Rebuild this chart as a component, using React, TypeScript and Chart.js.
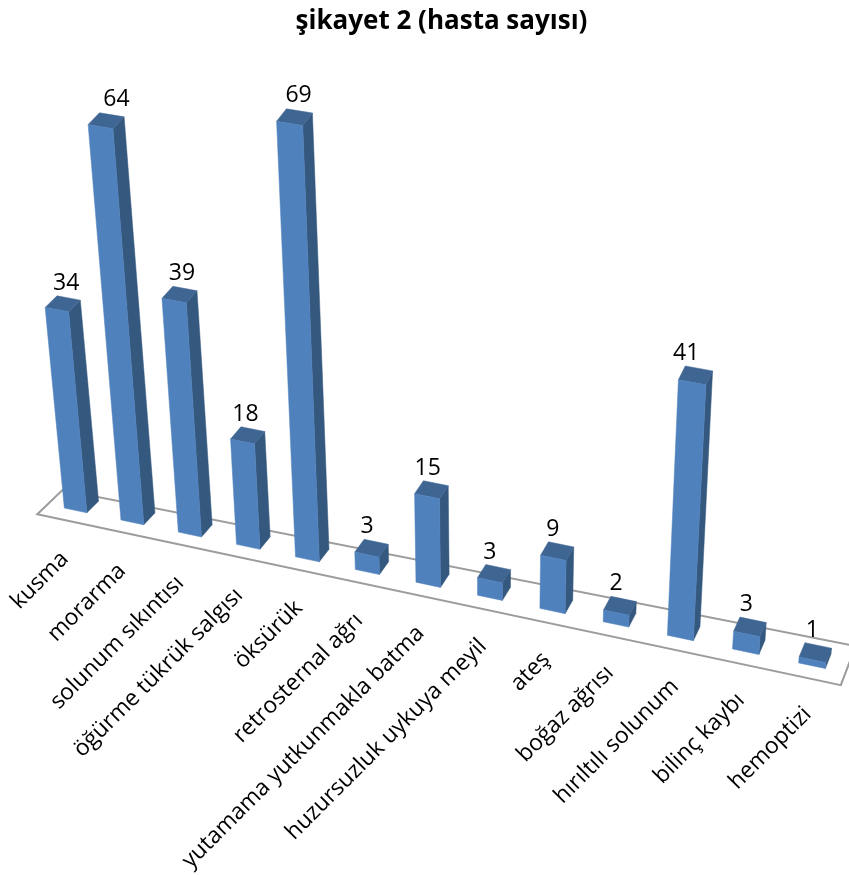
import React, { useEffect, useRef } from "react";
import { Chart, registerables } from "chart.js";

Chart.register(...registerables);

const categories = [
  "kusma",
  "morarma",
  "solunum sıkıntısı",
  "öğürme tükrük salgısı",
  "öksürük",
  "retrosternal ağrı",
  "yutamama yutkunmakla batma",
  "huzursuzluk uykuya meyil",
  "ateş",
  "boğaz ağrısı",
  "hırıltılı solunum",
  "bilinç kaybı",
  "hemoptizi",
];
const patientCounts = [34, 64, 39, 18, 69, 3, 15, 3, 9, 2, 41, 3, 1];
const chartTitle = "şikayet 2 (hasta sayısı)";

const FONT = "'Open Sans', sans-serif";
const VALUE_MAX = 70;

// Where the plot rectangle lands on the canvas after the 3D tilt.
type Pt = [number, number];
const PLANE: Pt[] = [
  [47.5, 504.5], // low end of the category axis, value 0
  [845.5, 672.8], // high end of the category axis, value 0
  [885, 211.5], // high end, top of the value axis
  [4.4, 71], // low end, top of the value axis
];
// Screen vector of one bar depth at each end of the category axis.
const DEPTH_LOW: Pt = [12, -11.5];
const DEPTH_HIGH: Pt = [5.5, -14.5];
const FLOOR_FRONT = -0.85;
const FLOOR_BACK_LOW = 1.25;
const FLOOR_BACK_HIGH = 1.85;

const buildProjection = (q: Pt[]) => {
  const [[x0, y0], [x1, y1], [x2, y2], [x3, y3]] = q;
  const dx1 = x1 - x2, dx2 = x3 - x2, sx = x0 - x1 + x2 - x3;
  const dy1 = y1 - y2, dy2 = y3 - y2, sy = y0 - y1 + y2 - y3;
  const den = dx1 * dy2 - dx2 * dy1;
  const g = (sx * dy2 - dx2 * sy) / den;
  const h = (dx1 * sy - sx * dy1) / den;
  const a = x1 - x0 + g * x1, b = x3 - x0 + h * x3;
  const d = y1 - y0 + g * y1, e = y3 - y0 + h * y3;
  return (u: number, v: number): Pt => {
    const w = g * u + h * v + 1;
    return [(a * u + b * v + x0) / w, (d * u + e * v + y0) / w];
  };
};

const toScreen = buildProjection(PLANE);

const project = (u: number, v: number, depth: number): Pt => {
  const [x, y] = toScreen(u, v);
  const dx = DEPTH_LOW[0] + (DEPTH_HIGH[0] - DEPTH_LOW[0]) * u;
  const dy = DEPTH_LOW[1] + (DEPTH_HIGH[1] - DEPTH_LOW[1]) * u;
  return [x + dx * depth, y + dy * depth];
};

const fillQuad = (ctx: CanvasRenderingContext2D, pts: Pt[], color: string) => {
  ctx.beginPath();
  pts.forEach(([x, y], i) => (i ? ctx.lineTo(x, y) : ctx.moveTo(x, y)));
  ctx.closePath();
  ctx.fillStyle = color;
  ctx.fill();
  ctx.strokeStyle = color;
  ctx.lineWidth = 0.5;
  ctx.stroke();
};

const tiltedBars = {
  id: "tiltedBars",
  afterDatasetsDraw(chart: any) {
    const { ctx, chartArea: area } = chart;
    const U = (px: number) => (px - area.left) / (area.right - area.left);
    const V = (py: number) => (area.bottom - py) / (area.bottom - area.top);

    ctx.save();

    // Floor of the plot
    ctx.beginPath();
    [
      project(0, 0, FLOOR_FRONT),
      project(1, 0, FLOOR_FRONT),
      project(1, 0, FLOOR_BACK_HIGH),
      project(0, 0, FLOOR_BACK_LOW),
    ].forEach(([x, y], i) => (i ? ctx.lineTo(x, y) : ctx.moveTo(x, y)));
    ctx.closePath();
    ctx.strokeStyle = "#9c9c9c";
    ctx.lineWidth = 2;
    ctx.stroke();

    const meta = chart.getDatasetMeta(0);
    meta.data.forEach((bar: any, i: number) => {
      const { x, y, base, width } = bar.getProps(["x", "y", "base", "width"], true);
      const uL = U(x - width / 2), uR = U(x + width / 2);
      const vT = V(y), vB = V(base);

      const fbl = project(uL, vB, 0), fbr = project(uR, vB, 0);
      const ftl = project(uL, vT, 0), ftr = project(uR, vT, 0);
      const bbr = project(uR, vB, 1), btr = project(uR, vT, 1), btl = project(uL, vT, 1);

      fillQuad(ctx, [fbr, bbr, btr, ftr], "#35587f");
      fillQuad(ctx, [ftl, ftr, btr, btl], "#3f6593");
      fillQuad(ctx, [fbl, fbr, ftr, ftl], "#4f81bd");

      // Value above the bar, horizontally at the middle of its front face
      const u = U(x);
      const backCentre = project(u, vT, 1);
      const topCentre = project(u, vT, 0);
      const footCentre = project(u, vB, 0);
      ctx.font = `23px ${FONT}`;
      ctx.fillStyle = "#000";
      ctx.textAlign = "center";
      ctx.textBaseline = "middle";
      ctx.fillText(String(patientCounts[i]), (topCentre[0] + footCentre[0]) / 2, backCentre[1] - 15);

      // Category name, slanted and ending just under the bar
      ctx.save();
      ctx.translate(footCentre[0] - 11 + 7 * u, footCentre[1] + 45);
      ctx.rotate(-Math.PI / 4);
      ctx.font = `22.8px ${FONT}`;
      ctx.textAlign = "right";
      ctx.fillText(chart.scales.x.getLabelForValue(i), 0, 0);
      ctx.restore();
    });

    ctx.restore();
  },
};

export default function App() {
  const canvasRef = useRef<HTMLCanvasElement>(null);

  useEffect(() => {
    document.body.style.margin = "0";
    const chart = new Chart(canvasRef.current!, {
      type: "bar",
      data: {
        labels: categories,
        datasets: [
          {
            data: patientCounts,
            backgroundColor: "transparent",
            barPercentage: 0.4,
            categoryPercentage: 1,
          },
        ],
      },
      options: {
        responsive: false,
        animation: false,
        layout: { padding: { left: 34 } },
        scales: {
          x: { display: false },
          y: { display: false, min: 0, max: VALUE_MAX },
        },
        plugins: {
          legend: { display: false },
          tooltip: { enabled: false },
          title: {
            display: true,
            text: chartTitle,
            color: "#000",
            font: { family: FONT, size: 26, weight: "bold" },
            padding: { top: 6, bottom: 10 },
          },
        },
      },
      plugins: [tiltedBars],
    });
    return () => chart.destroy();
  }, []);

  return <canvas ref={canvasRef} width={849} height={875} style={{ display: "block" }} />;
}
